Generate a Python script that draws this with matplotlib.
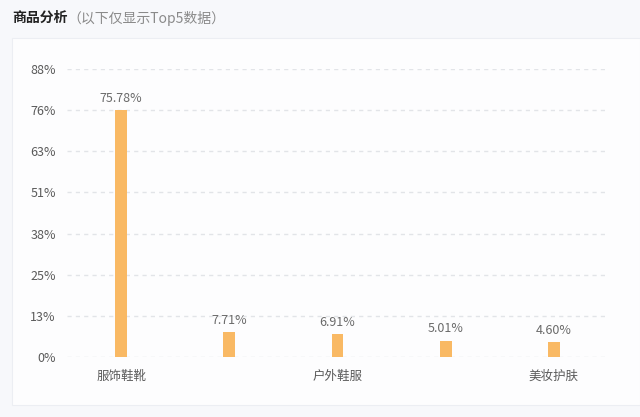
import matplotlib.pyplot as plt
from matplotlib.patches import Rectangle
from matplotlib.ticker import FixedLocator, FuncFormatter

plt.rcParams['font.family'] = ['Noto Sans CJK SC', 'DejaVu Sans']

categories = ['服饰鞋靴', '', '户外鞋服', '', '美妆护肤']
shares = [75.78, 7.71, 6.91, 5.01, 4.60]

step = max(shares) / 6
ticks = [step * i for i in range(8)]

fig = plt.figure(figsize=(6.4, 4.17), dpi=100)
fig.patch.set_facecolor('#f7f8fb')

# white panel behind the chart
fig.patches.append(Rectangle((12 / 640, 12 / 417), 628 / 640, 367 / 417,
                             transform=fig.transFigure, facecolor='#fdfdfe',
                             edgecolor='#eceef3', linewidth=0.8, zorder=-1))

fig.text(12 / 640, 1 - 18 / 417, '商品分析', fontsize=10, fontweight='bold',
         color='#222222', va='center')
fig.text(67 / 640, 1 - 18 / 417, '（以下仅显示Top5数据）', fontsize=10,
         color='#8a8a8a', va='center')

ax = fig.add_axes([67 / 640, 1 - 357 / 417, 541 / 640, 288 / 417])
ax.set_zorder(2)
ax.set_facecolor('none')
x = range(len(shares))
ax.bar(x, shares, width=0.11, color='#f9b964', zorder=3)
for xi, v in zip(x, shares):
    ax.text(xi, v + 1.6, f'{v:.2f}%', ha='center', va='bottom',
            fontsize=9, color='#6a6a6a')

ax.set_xlim(-0.5, len(shares) - 0.5)
ax.set_ylim(0, ticks[-1])
ax.yaxis.set_major_locator(FixedLocator(ticks))
ax.yaxis.set_major_formatter(FuncFormatter(lambda v, p: f'{v:.0f}%'))
ax.set_xticks(list(x))
ax.set_xticklabels(categories)
ax.tick_params(axis='both', length=0, labelsize=9, colors='#5a5a5a')
ax.tick_params(axis='x', pad=9)
ax.tick_params(axis='y', pad=8)
ax.grid(axis='y', color='#e2e4e8', linestyle=(0, (3, 3)), linewidth=1, zorder=0)
for s in ax.spines.values():
    s.set_visible(False)

fig.savefig('out.png', dpi=100, facecolor=fig.get_facecolor())
